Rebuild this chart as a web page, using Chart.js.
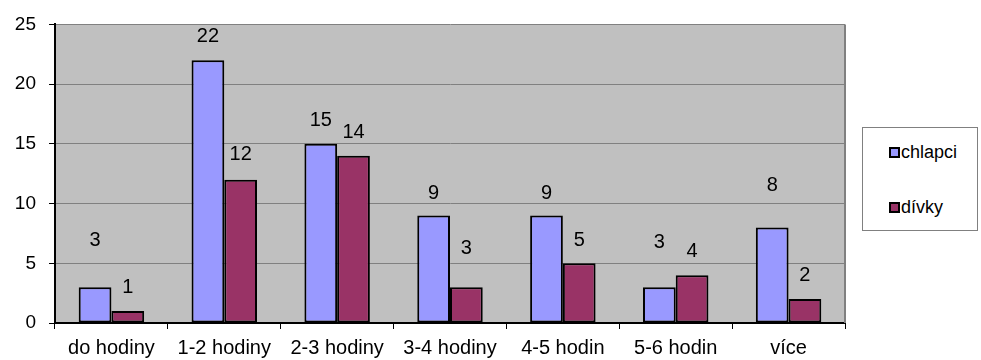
<!DOCTYPE html>
<html>
<head>
<meta charset="utf-8">
<script src="https://cdn.jsdelivr.net/npm/chart.js@4/dist/chart.umd.min.js"></script>
<style>
  html, body { margin: 0; padding: 0; background: #fff; }
  #wrap { position: relative; width: 981px; height: 360px; }
  #legend {
    position: absolute; left: 862px; top: 127px; width: 116px; height: 104px;
    border: 1px solid #808080; background: #fff; box-sizing: border-box;
    font-family: "Liberation Sans", Arial, sans-serif; font-size: 18px; color: #000;
  }
  .item { position: absolute; left: 26px; display: flex; align-items: center; }
  .sw { width: 7px; height: 7px; border: 2px solid #000; margin-right: 1px; }
</style>
</head>
<body>
<div id="wrap">
  <canvas id="c" width="981" height="360"></canvas>
  <div id="legend"></div>
</div>
<script>
const categories = ["do hodiny", "1-2 hodiny", "2-3 hodiny", "3-4 hodiny", "4-5 hodin", "5-6 hodin", "více"];
const seriesNames = ["chlapci", "dívky"];
const chlapci = [3, 22, 15, 9, 9, 3, 8];
const divky = [1, 12, 14, 3, 5, 4, 2];
// positions of value labels, in data units (as placed in the original)
const chlapciLabelAt = [6.95, 24.0, 16.97, 10.84, 10.84, 6.7, 11.5];
const divkyLabelAt = [2.98, 14.07, 15.98, 6.2, 6.95, 5.96, 3.97];
const yTicks = [0, 5, 10, 15, 20, 25];

const colors = ["#9999FF", "#993366"];
const FONT = "'Liberation Sans', Arial, sans-serif";

const plotBg = {
  id: 'plotBg',
  beforeDraw(chart) {
    const {ctx, chartArea: a} = chart;
    ctx.save();
    ctx.fillStyle = '#C0C0C0';
    ctx.fillRect(a.left, a.top, a.right - a.left, a.bottom - a.top);
    ctx.restore();
  },
  afterDraw(chart) {
    const {ctx, chartArea: a} = chart;
    ctx.save();
    ctx.strokeStyle = '#808080';
    ctx.lineWidth = 2;
    ctx.beginPath();
    ctx.moveTo(a.right, a.top);
    ctx.lineTo(a.right, a.bottom);
    ctx.stroke();
    ctx.restore();
  }
};

const valueLabels = {
  id: 'valueLabels',
  afterDatasetsDraw(chart) {
    const {ctx} = chart;
    const y = chart.scales.y;
    const pos = [chlapciLabelAt, divkyLabelAt];
    ctx.save();
    ctx.font = '20px ' + FONT;
    ctx.fillStyle = '#000';
    ctx.textAlign = 'center';
    ctx.textBaseline = 'middle';
    chart.data.datasets.forEach((ds, di) => {
      const meta = chart.getDatasetMeta(di);
      meta.data.forEach((bar, i) => {
        ctx.fillText(String(ds.data[i]), bar.x, y.getPixelForValue(pos[di][i]));
      });
    });
    ctx.restore();
  }
};

const chart = new Chart(document.getElementById('c'), {
  type: 'bar',
  data: {
    labels: categories,
    datasets: [
      { label: seriesNames[0], data: chlapci, backgroundColor: colors[0], borderColor: '#000', borderWidth: 2, borderSkipped: false },
      { label: seriesNames[1], data: divky, backgroundColor: colors[1], borderColor: '#000', borderWidth: 2, borderSkipped: false }
    ]
  },
  options: {
    responsive: false,
    animation: false,
    layout: { padding: { left: 0, right: 136, top: 21, bottom: 0 } },
    datasets: { bar: { categoryPercentage: 0.58, barPercentage: 1.0 } },
    plugins: { legend: { display: false }, tooltip: { enabled: false } },
    scales: {
      x: {
        grid: { offset: true, drawOnChartArea: false, drawTicks: true, tickLength: 6, tickColor: '#000', lineWidth: 1 },
        border: { display: true, color: '#000', width: 2 },
        ticks: { color: '#000', font: { family: FONT, size: 20 }, padding: 7, maxRotation: 0, autoSkip: false },
        afterFit(s) { s.height = 37; }
      },
      y: {
        min: 0, max: 25,
        afterBuildTicks(s) { s.ticks = yTicks.map(v => ({ value: v })); },
        grid: { color: '#808080', lineWidth: 1, drawTicks: true, tickLength: 6, tickColor: '#000' },
        border: { display: true, color: '#000', width: 2 },
        ticks: { color: '#000', font: { family: FONT, size: 19 }, padding: 13 },
        afterFit(s) { s.width = 55; }
      }
    }
  },
  plugins: [plotBg, valueLabels]
});

// HTML legend built from datasets
const lg = document.getElementById('legend');
const tops = [14, 69];
chart.data.datasets.forEach((ds, i) => {
  const it = document.createElement('div');
  it.className = 'item';
  it.style.top = tops[i] + 'px';
  const sw = document.createElement('span');
  sw.className = 'sw';
  sw.style.background = ds.backgroundColor;
  const tx = document.createElement('span');
  tx.textContent = ds.label;
  it.appendChild(sw); it.appendChild(tx);
  lg.appendChild(it);
});
</script>
</body>
</html>
